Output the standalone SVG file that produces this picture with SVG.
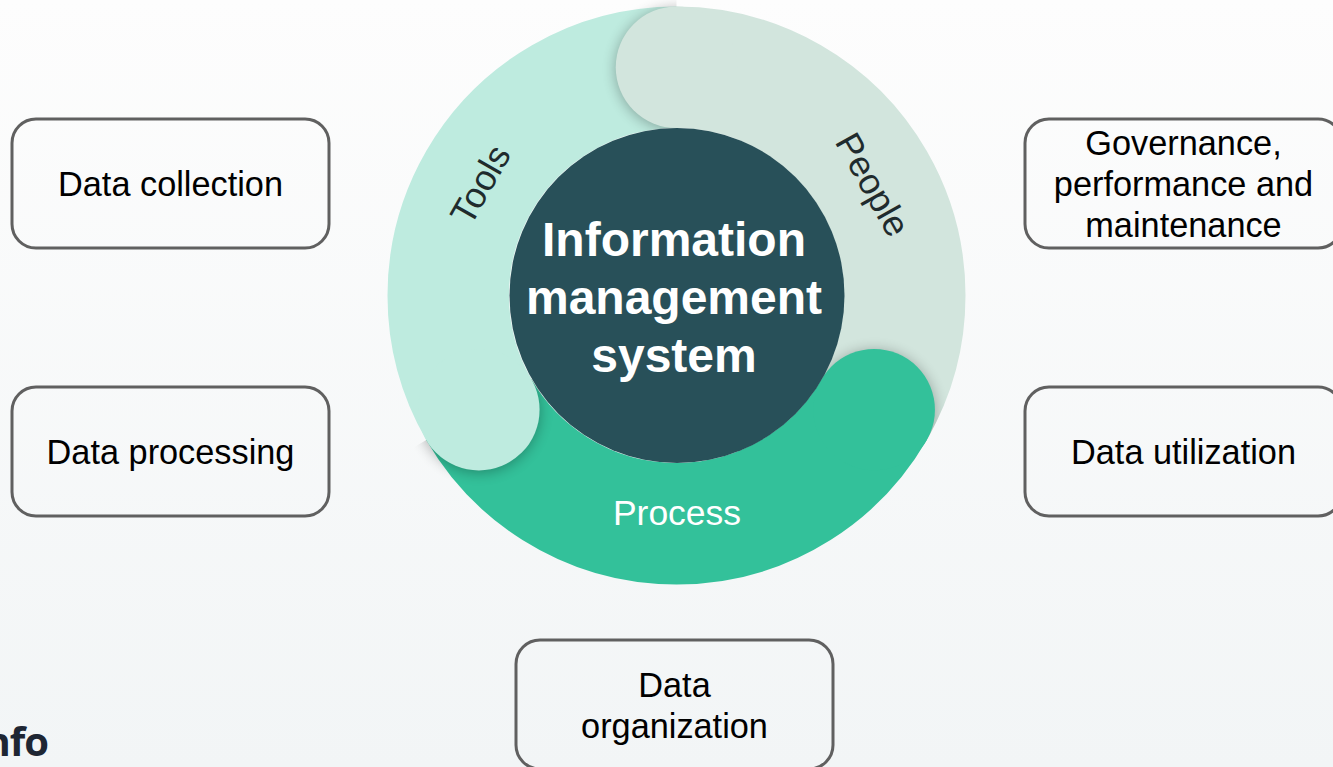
<svg xmlns="http://www.w3.org/2000/svg" width="1333" height="767" viewBox="0 0 1333 767">
  <defs>
    <linearGradient id="bg" x1="0" y1="0" x2="0" y2="1">
      <stop offset="0" stop-color="#FDFDFD"/>
      <stop offset="1" stop-color="#F2F5F6"/>
    </linearGradient>
    <filter id="blur" x="-50%" y="-50%" width="200%" height="200%">
      <feGaussianBlur stdDeviation="7"/>
    </filter>
    <clipPath id="clipPeople"><polygon points="676.5,295.5 676.5,-304.5 76.5,295.5 76.5,-304.5"/></clipPath>
    <clipPath id="clipProcess"><polygon points="676.5,295.5 1196.1,595.5 1500,200 976.5,-224.1"/></clipPath>
    <clipPath id="clipTools"><polygon points="676.5,295.5 156.9,595.5 500,900 976.5,815.1"/></clipPath>
    <clipPath id="clipRing"><circle cx="676.5" cy="295.5" r="289"/></clipPath>
    <style>
      .box { fill: none; stroke: #606060; stroke-width: 3; }
      .lbl { font-family: "Liberation Sans", Arial, sans-serif; font-size: 34.3px; fill: #000; text-anchor: middle; }
      .seg { fill: none; stroke-width: 121.5; stroke-linecap: butt; }
      .ring { font-family: "Liberation Sans", Arial, sans-serif; font-size: 36px; text-anchor: middle; }
      .center { font-family: "Liberation Sans", Arial, sans-serif; font-size: 48px; font-weight: bold; fill: #FFFFFF; text-anchor: middle; }
      .shadow { fill: #000; opacity: 0.3; }
    </style>
  </defs>

  <rect x="0" y="0" width="1333" height="767" fill="url(#bg)"/>

  <g id="cycle">
    <path class="seg" stroke="#D2E5DD" d="M 676.5 67.25 A 228.25 228.25 0 0 1 874.17 409.63"/>
    <path class="seg" stroke="#33C19A" d="M 874.17 409.63 A 228.25 228.25 0 0 1 478.83 409.63"/>
    <path class="seg" stroke="#BEEBDF" d="M 478.83 409.63 A 228.25 228.25 0 0 1 676.5 67.25"/>
    <g clip-path="url(#clipPeople)"><circle class="shadow" cx="676.5" cy="69" r="60.75" filter="url(#blur)"/></g>
    <g clip-path="url(#clipRing)"><g clip-path="url(#clipProcess)"><circle class="shadow" cx="874.17" cy="411.5" r="60.75" filter="url(#blur)"/></g></g>
    <g clip-path="url(#clipTools)"><circle class="shadow" cx="478.83" cy="411.5" r="60.75" filter="url(#blur)"/></g>
    <circle cx="676.5" cy="67.25" r="60.75" fill="#D2E5DD"/>
    <circle cx="874.17" cy="409.63" r="60.75" fill="#33C19A"/>
    <circle cx="478.83" cy="409.63" r="60.75" fill="#BEEBDF"/>
  </g>

  <g id="tools">
    <text class="ring" fill="#1F2B2D" transform="translate(491.1,190.6) rotate(-60.5)">Tools</text>
  </g>
  <g id="people">
    <text class="ring" fill="#1F2B2D" transform="translate(861.9,190.6) rotate(60.5)">People</text>
  </g>
  <g id="process">
    <text class="ring" fill="#FFFFFF" x="677" y="524.5" style="font-size:35.5px">Process</text>
  </g>

  <g id="info-system">
    <circle cx="677" cy="295.5" r="167.5" fill="#285059"/>
    <text class="center" x="674" y="256">Information</text>
    <text class="center" x="674" y="314">management</text>
    <text class="center" x="674" y="372">system</text>
  </g>

  <g id="data-collection">
    <rect class="box" x="12" y="119" width="317" height="129" rx="24"/>
    <text class="lbl" x="170.5" y="196">Data collection</text>
  </g>
  <g id="data-processing">
    <rect class="box" x="12" y="387" width="317" height="129" rx="24"/>
    <text class="lbl" x="170.5" y="464">Data processing</text>
  </g>
  <g id="governance">
    <rect class="box" x="1025" y="119" width="317" height="129" rx="24"/>
    <text class="lbl" x="1183.5" y="155">Governance,</text>
    <text class="lbl" x="1183.5" y="196">performance and</text>
    <text class="lbl" x="1183.5" y="237">maintenance</text>
  </g>
  <g id="data-utilization">
    <rect class="box" x="1025" y="387" width="317" height="129" rx="24"/>
    <text class="lbl" x="1183.5" y="464">Data utilization</text>
  </g>
  <g id="data-organization">
    <rect class="box" x="516" y="640" width="317" height="129" rx="24"/>
    <text class="lbl" x="674.5" y="696.5">Data</text>
    <text class="lbl" x="674.5" y="737.5">organization</text>
  </g>

  <g id="logo">
    <text x="48" y="756" text-anchor="end" font-family="'Open Sans', sans-serif" font-weight="bold" font-size="40" letter-spacing="-1" fill="#1E2633">nfo</text>
  </g>
</svg>
